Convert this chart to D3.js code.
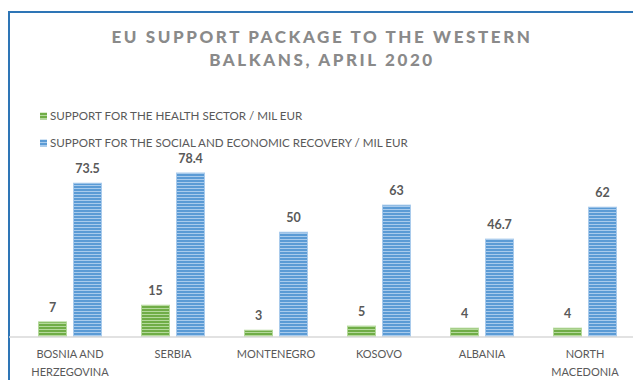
<!DOCTYPE html>
<html>
<head>
<meta charset="utf-8">
<script src="https://cdn.jsdelivr.net/npm/d3@7"></script>
<style>
  html, body { margin: 0; padding: 0; background: #fff; }
  svg { display: block; font-family: Lato, "Open Sans", sans-serif; }
</style>
</head>
<body>
<div id="chart"></div>
<script>
// data
var countries = ['BOSNIA AND HERZEGOVINA', 'SERBIA', 'MONTENEGRO', 'KOSOVO', 'ALBANIA', 'NORTH MACEDONIA'];
var countryLines = [['BOSNIA AND', 'HERZEGOVINA'], ['SERBIA'], ['MONTENEGRO'], ['KOSOVO'], ['ALBANIA'], ['NORTH', 'MACEDONIA']];
var healthValues = [7, 15, 3, 5, 4, 4];
var recoveryValues = [73.5, 78.4, 50, 63, 46.7, 62];
var seriesNames = ['SUPPORT FOR THE HEALTH SECTOR / MIL EUR', 'SUPPORT FOR THE SOCIAL AND ECONOMIC RECOVERY / MIL EUR'];
var titleLines = ['EU SUPPORT PACKAGE TO THE WESTERN', 'BALKANS, APRIL 2020'];

var width = 633, height = 380;

var series = [
  { key: 'health', name: seriesNames[0], values: healthValues, base: '#70ad47', light: '#b5d99c' },
  { key: 'recovery', name: seriesNames[1], values: recoveryValues, base: '#5b9bd5', light: '#a9cbec' }
];

var rows = countries.map(function (c, i) {
  return { label: c, lines: countryLines[i], values: series.map(function (s) { return { key: s.key, value: s.values[i] }; }) };
});

var svg = d3.select('#chart').append('svg')
  .attr('width', width)
  .attr('height', height);

// striped fills
var defs = svg.append('defs');
series.forEach(function (s) {
  var p = defs.append('pattern')
    .attr('id', 'stripe-' + s.key)
    .attr('patternUnits', 'userSpaceOnUse')
    .attr('width', 4)
    .attr('height', 3);
  p.append('rect').attr('width', 4).attr('height', 3).attr('fill', s.base);
  p.append('rect').attr('y', 2).attr('width', 4).attr('height', 1).attr('fill', s.light);
});

// scales
var x0 = d3.scaleBand().domain(countries).range([18.5, 636.5]);
var x1 = d3.scaleBand().domain(series.map(function (s) { return s.key; }))
  .range([20, 83]).paddingInner(0.2);
var y = d3.scaleLinear().domain([0, 90]).range([336.5, 148.8]);
var fill = d3.scaleOrdinal().domain(series.map(function (s) { return s.key; }))
  .range(series.map(function (s) { return 'url(#stripe-' + s.key + ')'; }));
var edge = d3.scaleOrdinal().domain(series.map(function (s) { return s.key; }))
  .range(series.map(function (s) { return s.light; }));

// frame
svg.append('path')
  .attr('d', 'M9,' + height + 'V12H' + width)
  .attr('fill', 'none')
  .attr('stroke', '#2e75b6')
  .attr('stroke-width', 2);

// title
svg.append('g').selectAll('text')
  .data(titleLines)
  .enter().append('text')
  .attr('x', 322)
  .attr('y', function (d, i) { return 43 + i * 23; })
  .attr('text-anchor', 'middle')
  .attr('fill', '#8a8a8a')
  .style('font-size', '17px')
  .style('font-weight', '900')
  .style('letter-spacing', '2.6px')
  .text(function (d) { return d; });

// legend
var legend = svg.append('g').selectAll('g')
  .data(series)
  .enter().append('g')
  .attr('transform', function (d, i) { return 'translate(40,' + (116 + i * 27) + ')'; });
legend.append('rect')
  .attr('x', 0).attr('y', -3.5).attr('width', 7).attr('height', 7)
  .attr('fill', function (d) { return fill(d.key); });
legend.append('text')
  .attr('x', 10)
  .attr('dy', '0.35em')
  .attr('fill', '#595959')
  .style('font-size', '11.6px')
  .text(function (d) { return d.name; });

// bars
var groups = svg.append('g').selectAll('g')
  .data(rows)
  .enter().append('g')
  .attr('transform', function (d) { return 'translate(' + x0(d.label) + ',0)'; });

groups.selectAll('rect')
  .data(function (d) { return d.values; })
  .enter().append('rect')
  .attr('x', function (d) { return x1(d.key); })
  .attr('y', function (d) { return y(d.value); })
  .attr('width', x1.bandwidth())
  .attr('height', function (d) { return y(0) - y(d.value); })
  .attr('fill', function (d) { return fill(d.key); })
  .attr('stroke', function (d) { return edge(d.key); })
  .attr('stroke-width', 1);

groups.selectAll('text.value')
  .data(function (d) { return d.values; })
  .enter().append('text')
  .attr('class', 'value')
  .attr('x', function (d) { return x1(d.key) + x1.bandwidth() / 2; })
  .attr('y', function (d) { return y(d.value) - 10; })
  .attr('text-anchor', 'middle')
  .attr('fill', '#595959')
  .style('font-size', '12.5px')
  .style('font-weight', 'bold')
  .text(function (d) { return d.value; });

// axis baseline
svg.append('line')
  .attr('x1', 9).attr('x2', width)
  .attr('y1', 337).attr('y2', 337)
  .attr('stroke', '#d9d9d9')
  .attr('stroke-width', 1.5);

// category labels
var cats = svg.append('g').selectAll('text')
  .data(rows)
  .enter().append('text')
  .attr('x', function (d) { return x0(d.label) + x0.bandwidth() / 2; })
  .attr('y', 358)
  .attr('text-anchor', 'middle')
  .attr('fill', '#595959')
  .style('font-size', '11px');
cats.selectAll('tspan')
  .data(function (d) { return d.lines; })
  .enter().append('tspan')
  .attr('x', function () { var p = d3.select(this.parentNode).datum(); return x0(p.label) + x0.bandwidth() / 2; })
  .attr('dy', function (d, i) { return i ? 18 : 0; })
  .text(function (d) { return d; });
</script>
</body>
</html>
